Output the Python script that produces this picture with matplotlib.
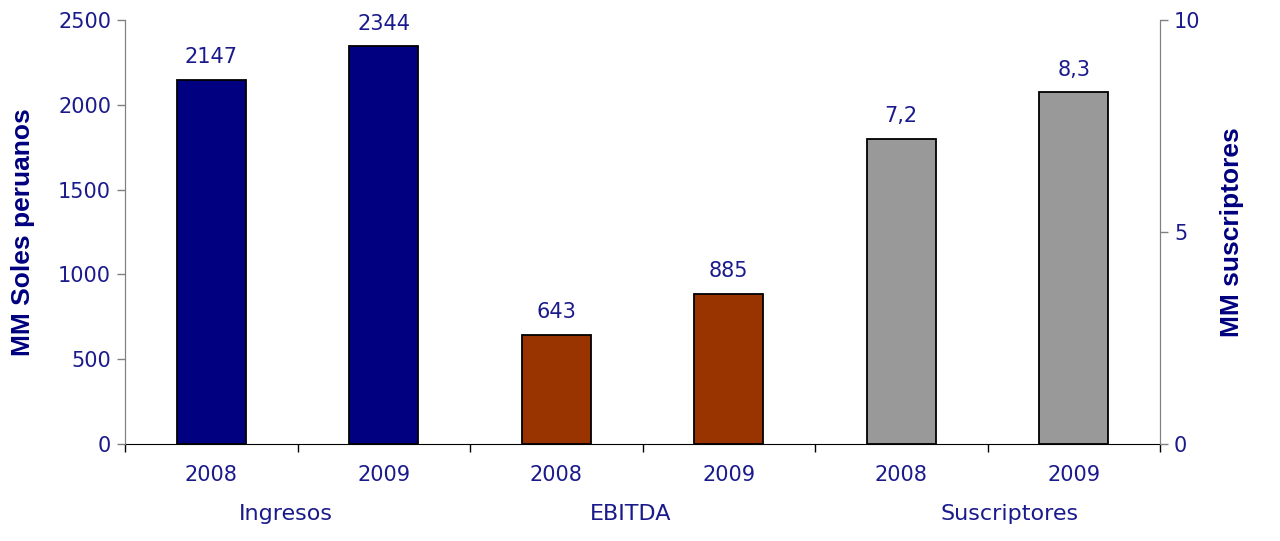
import numpy as np
import matplotlib
matplotlib.use("Agg")
import matplotlib.pyplot as plt

anios = ["2008", "2009", "2008", "2009", "2008", "2009"]
grupos = ["Ingresos", "EBITDA", "Suscriptores"]
ingresos = [2147, 2344]
ebitda = [643, 885]
suscriptores = [7.2, 8.3]

azul = "#000080"
txt = "#1a1a8c"
fs = 15
plt.rcParams['font.family'] = ['DejaVu Sans']

fig = plt.figure(figsize=(12.8, 5.41), dpi=100)
ax = fig.add_axes([125/1280, 97/541, 1035/1280, 424/541])
ax2 = ax.twinx()

x = np.arange(6)
w = 0.4
ax.bar(x[0:2], ingresos, w, color=azul, edgecolor="black", lw=1.3, zorder=3)
ax.bar(x[2:4], ebitda, w, color="#993300", edgecolor="black", lw=1.3, zorder=3)
ax2.bar(x[4:6], suscriptores, w, color="#999999", edgecolor="black", lw=1.3, zorder=3)

for xi, v in zip(x[0:2], ingresos):
    ax.annotate(str(v), (xi, v), xytext=(0, 9), textcoords="offset points",
                ha="center", va="bottom", color=txt, fontsize=fs)
for xi, v in zip(x[2:4], ebitda):
    ax.annotate(str(v), (xi, v), xytext=(0, 9), textcoords="offset points",
                ha="center", va="bottom", color=txt, fontsize=fs)
for xi, v in zip(x[4:6], suscriptores):
    ax2.annotate(f"{v:.1f}".replace(".", ","), (xi, v), xytext=(0, 9),
                 textcoords="offset points", ha="center", va="bottom", color=txt, fontsize=fs)

ax.set_xlim(-0.5, 5.5)
ax.set_ylim(0, 2500)
ax.set_yticks([0, 500, 1000, 1500, 2000, 2500])
ax2.set_ylim(0, 10)
ax2.set_yticks([0, 5, 10])

ax.set_xticks(x)
ax.set_xticklabels(anios)
ax.set_xticks(np.arange(-0.5, 6, 1), minor=True)
ax.tick_params(axis="x", which="major", length=0, pad=15, labelcolor=txt, labelsize=fs)
ax.tick_params(axis="x", which="minor", length=6, width=1, color="black", direction="out")
ax.tick_params(axis="y", length=6, width=1, color="#808080", labelcolor=txt, labelsize=fs, pad=4)
ax2.tick_params(axis="y", length=6, width=1, color="#808080", labelcolor=txt, labelsize=fs, pad=4)

for a in (ax, ax2):
    a.spines["top"].set_visible(False)
    a.spines["left"].set_color("#808080")
    a.spines["right"].set_color("#808080")
    a.spines["bottom"].set_color("black")
ax2.spines["bottom"].set_visible(False)

ax.set_ylabel("MM Soles peruanos", family="Liberation Sans", fontweight="bold",
              fontsize=19, color=azul)
ax.yaxis.set_label_coords(-0.087, 0.5)
ax2.set_ylabel("MM suscriptores", family="Liberation Sans", fontweight="bold",
               fontsize=19, color=azul, rotation=90)
ax2.yaxis.set_label_coords(1.058, 0.5)

for gx, g in zip([0.43, 2.43, 4.63], grupos):
    ax.text(gx, -0.165, g, transform=ax.get_xaxis_transform(), ha="center", va="center",
            color=txt, fontsize=16)

fig.savefig("out.png", dpi=100)
